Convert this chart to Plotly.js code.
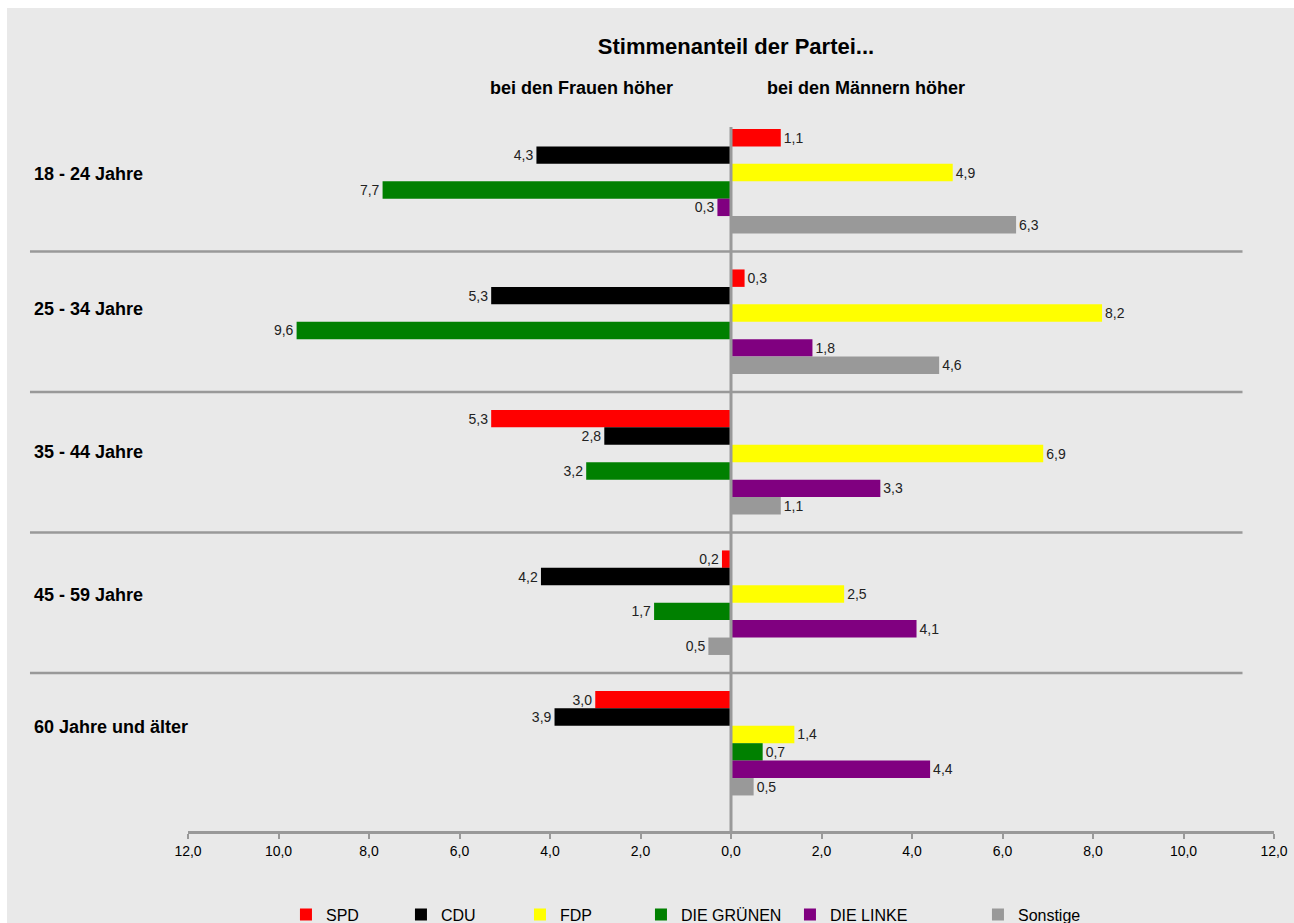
<!DOCTYPE html>
<html>
<head>
<meta charset="utf-8">
<script src="https://cdn.plot.ly/plotly-3.0.1.min.js"></script>
<style>
  body { margin: 0; background: #ffffff; }
  #chart { position: absolute; left: 7px; top: 8px; width: 1287px; height: 915px; }
</style>
</head>
<body>
<div id="chart"></div>
<script>
// Differenz Stimmenanteil Männer - Frauen (positiv = bei den Männern höher)
var groups = ["18 - 24 Jahre", "25 - 34 Jahre", "35 - 44 Jahre", "45 - 59 Jahre", "60 Jahre und älter"];
var parties = ["SPD", "CDU", "FDP", "DIE GRÜNEN", "DIE LINKE", "Sonstige"];
var partyColors = ["#ff0000", "#000000", "#ffff00", "#008000", "#800080", "#999999"];

var spd = [1.1, 0.3, -5.3, -0.2, -3.0];
var cdu = [-4.3, -5.3, -2.8, -4.2, -3.9];
var fdp = [4.9, 8.2, 6.9, 2.5, 1.4];
var gruene = [-7.7, -9.6, -3.2, -1.7, 0.7];
var linke = [-0.3, 1.8, 3.3, 4.1, 4.4];
var sonstige = [6.3, 4.6, 1.1, -0.5, 0.5];

var xTicks = [-12, -10, -8, -6, -4, -2, 0, 2, 4, 6, 8, 10, 12];

// layout helpers (pixel tweaks, not data)
var labelShift = [7, 13, 10, 8, 16];
var legendX = [0.0902, 0.1961, 0.3057, 0.4171, 0.5543, 0.7274];

var fontFam = "Liberation Sans, Arial, sans-serif";
var series = [spd, cdu, fdp, gruene, linke, sonstige];
var yIdx = groups.map((_, i) => i);

function fmt(v) {
  return Math.abs(v).toFixed(1).replace(".", ",");
}

var traces = series.map((vals, k) => ({
  type: "bar",
  orientation: "h",
  name: parties[k],
  x: vals,
  y: yIdx,
  marker: { color: partyColors[k], line: { width: 0 } },
  text: vals.map(fmt),
  textposition: "outside",
  constraintext: "none",
  cliponaxis: false,
  textfont: { family: fontFam, size: 14, color: "#222222" },
  legend: k === 0 ? "legend" : "legend" + (k + 1),
  hoverinfo: "skip",
}));

var shapes = [0.5, 1.5, 2.5, 3.5].map((y) => ({
  type: "line",
  xref: "paper",
  yref: "y",
  x0: -0.1455,
  x1: 0.971,
  y0: y,
  y1: y,
  line: { color: "#999999", width: 2.5 },
}));
shapes.push({
  type: "line",
  xref: "x",
  yref: "paper",
  x0: 0,
  x1: 0,
  y0: 0,
  y1: 1,
  layer: "above",
  line: { color: "#999999", width: 3 },
});

var annotations = groups.map((g, i) => ({
  text: "<b>" + g + "</b>",
  xref: "paper",
  yref: "y",
  x: -0.1436,
  y: i,
  yshift: labelShift[i],
  xanchor: "left",
  yanchor: "middle",
  showarrow: false,
  font: { family: fontFam, size: 18, color: "#000000" },
}));
annotations.push({
  text: "<b>bei den Frauen höher</b>",
  xref: "paper", yref: "paper",
  x: 0.3619, y: 1.0554,
  xanchor: "center", yanchor: "middle",
  showarrow: false,
  font: { family: fontFam, size: 18, color: "#000000" },
});
annotations.push({
  text: "<b>bei den Männern höher</b>",
  xref: "paper", yref: "paper",
  x: 0.6243, y: 1.0554,
  xanchor: "center", yanchor: "middle",
  showarrow: false,
  font: { family: fontFam, size: 18, color: "#000000" },
});

var layout = {
  width: 1287,
  height: 915,
  margin: { l: 181, r: 20, t: 119, b: 92, autoexpand: false },
  paper_bgcolor: "#e9e9e9",
  plot_bgcolor: "rgba(0,0,0,0)",
  font: { family: fontFam, color: "#000000" },
  title: {
    text: "<b>Stimmenanteil der Partei...</b>",
    xref: "paper",
    x: 0.5046,
    xanchor: "center",
    yref: "container",
    y: 0.9585,
    yanchor: "middle",
    font: { family: fontFam, size: 22, color: "#000000" },
  },
  barmode: "group",
  bargap: 0.256,
  bargroupgap: 0,
  showlegend: true,
  xaxis: {
    range: [-12, 12],
    tickvals: xTicks,
    ticktext: xTicks.map(fmt),
    tickfont: { family: fontFam, size: 14, color: "#000000" },
    showgrid: false,
    zeroline: false,
    showline: true,
    linecolor: "#999999",
    linewidth: 3,
    ticks: "outside",
    ticklen: 5,
    tickwidth: 2,
    tickcolor: "#999999",
    fixedrange: true,
  },
  yaxis: {
    range: [4.625, -0.386],
    showticklabels: false,
    showgrid: false,
    zeroline: false,
    showline: false,
    ticks: "",
    fixedrange: true,
  },
  shapes: shapes,
  annotations: annotations,
};

legendX.forEach((lx, k) => {
  var key = k === 0 ? "legend" : "legend" + (k + 1);
  layout[key] = {
    orientation: "h",
    x: lx,
    xanchor: "left",
    y: -0.1186,
    yanchor: "middle",
    bgcolor: "rgba(0,0,0,0)",
    borderwidth: 0,
    font: { family: fontFam, size: 16, color: "#000000" },
  };
});

var config = { staticPlot: true, displayModeBar: false };

Plotly.newPlot("chart", traces, layout, config);
</script>
</body>
</html>
